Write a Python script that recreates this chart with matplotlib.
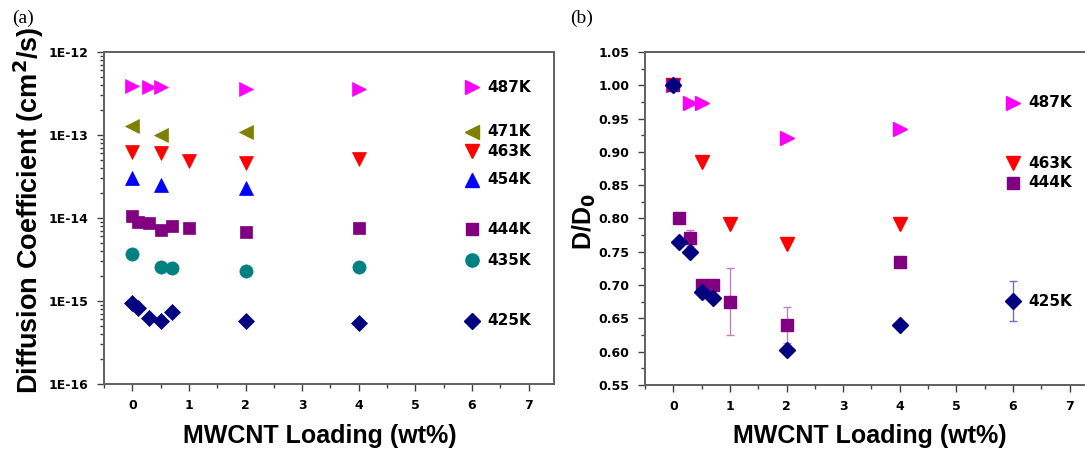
import math
import matplotlib
matplotlib.use("Agg")
import matplotlib.pyplot as plt
from matplotlib.ticker import FixedLocator, FuncFormatter, MultipleLocator, NullFormatter

# ---------------- data: panel (a) ----------------
labels = ["487K", "471K", "463K", "454K", "444K", "435K", "425K"]
colors = ["#FF00FF", "#808000", "#FF0000", "#0000FF", "#800080", "#008080", "#000080"]
markers = [">", "<", "v", "^", "s", "o", "D"]
msizes = [10, 10, 10, 10, 8.5, 9.5, 8.5]

x_487 = [0, 0.3, 0.5, 2, 4]
D_487 = [3.9e-13, 3.8e-13, 3.8e-13, 3.55e-13, 3.55e-13]
x_471 = [0, 0.5, 2]
D_471 = [1.29e-13, 1.0e-13, 1.1e-13]
x_463 = [0, 0.5, 1, 2, 4]
D_463 = [6.3e-14, 6.0e-14, 4.8e-14, 4.6e-14, 5.2e-14]
x_454 = [0, 0.5, 2]
D_454 = [3.0e-14, 2.5e-14, 2.28e-14]
x_444 = [0, 0.1, 0.3, 0.5, 0.7, 1, 2, 4]
D_444 = [1.07e-14, 9.0e-15, 8.6e-15, 7.2e-15, 7.9e-15, 7.5e-15, 6.7e-15, 7.6e-15]
x_435 = [0, 0.5, 0.7, 2, 4]
D_435 = [3.7e-15, 2.6e-15, 2.5e-15, 2.3e-15, 2.6e-15]
x_425 = [0, 0.1, 0.3, 0.5, 0.7, 2, 4]
D_425 = [9.4e-16, 8.3e-16, 6.3e-16, 5.8e-16, 7.4e-16, 5.8e-16, 5.4e-16]

# legend-marker positions (panel a) at x = 6
legend_a_x = 6
legend_a_y = [3.75e-13, 1.09e-13, 6.4e-14, 2.9e-14, 7.3e-15, 3.1e-15, 5.8e-16]

# ---------------- data: panel (b) ----------------
xb_487 = [0, 0.3, 0.5, 2, 4]
r_487 = [1.0, 0.974, 0.974, 0.921, 0.934]
xb_463 = [0, 0.5, 1, 2, 4]
r_463 = [1.0, 0.885, 0.792, 0.761, 0.792]
xb_444 = [0, 0.1, 0.3, 0.5, 0.7, 1, 2, 4]
r_444 = [1.0, 0.800, 0.770, 0.700, 0.700, 0.675, 0.640, 0.735]
e_444 = [0, 0, 0.012, 0, 0, 0.05, 0.027, 0]
xb_425 = [0, 0.1, 0.3, 0.5, 0.7, 2, 4, 6]
r_425 = [1.0, 0.764, 0.749, 0.690, 0.680, 0.603, 0.640, 0.676]
e_425 = [0, 0, 0, 0, 0, 0, 0, 0.030]

labels_b = ["487K", "463K", "444K"]
legend_b_x = 6
legend_b_y = [0.974, 0.883, 0.854]

# ---------------- figure ----------------
plt.rcParams['font.family'] = ['Liberation Sans', 'DejaVu Sans']
fig = plt.figure(figsize=(10.85, 4.51), dpi=100)

W, H = 1085.0, 451.0
def pos(x0, y0, x1, y1):
    return [x0 / W, 1 - y1 / H, (x1 - x0) / W, (y1 - y0) / H]

spine_col = "#606060"
TICKFONT = dict(family="DejaVu Sans", weight="bold", size=9)
LABFONT = dict(family="DejaVu Sans", weight="bold", size=11)

def style(ax):
    for s in ax.spines.values():
        s.set_color(spine_col)
        s.set_linewidth(1.4)
    ax.tick_params(which="both", direction="out", top=False, right=False,
                   color="#404040", width=1.0)
    ax.tick_params(which="major", length=5, pad=6)
    ax.tick_params(which="minor", length=3)
    for lab in ax.get_xticklabels() + ax.get_yticklabels():
        lab.set_fontfamily(TICKFONT["family"])
        lab.set_fontweight(TICKFONT["weight"])
        lab.set_fontsize(TICKFONT["size"])

# ---- panel (a)
axa = fig.add_axes(pos(104, 52, 554, 384))
series_a = [(x_487, D_487), (x_471, D_471), (x_463, D_463), (x_454, D_454),
            (x_444, D_444), (x_435, D_435), (x_425, D_425)]
for (xs, ys), c, m, ms in zip(series_a, colors, markers, msizes):
    axa.plot(xs, ys, linestyle="none", marker=m, color=c, markersize=ms,
             markeredgecolor=c, markeredgewidth=0.5)
for yv, c, m, ms, lab in zip(legend_a_y, colors, markers, msizes, labels):
    axa.plot([legend_a_x], [yv], linestyle="none", marker=m, color=c,
             markersize=ms, markeredgecolor=c)
    axa.text(legend_a_x + 0.27, yv, lab, va="center", ha="left", **LABFONT)
axa.set_yscale("log")
axa.set_ylim(1e-16, 1e-12)
axa.set_xlim(-0.5, 7.45)
decades = [-16, -15, -14, -13, -12]
axa.yaxis.set_major_locator(FixedLocator([10.0 ** d for d in decades]))
axa.yaxis.set_minor_locator(FixedLocator([k * 10.0 ** d for d in decades[:-1] for k in range(2, 10)]))
axa.yaxis.set_minor_formatter(NullFormatter())
axa.yaxis.set_major_formatter(FuncFormatter(lambda v, p: "1E%d" % round(math.log10(v))))
axa.xaxis.set_major_locator(MultipleLocator(1))
axa.xaxis.set_minor_locator(MultipleLocator(0.5))
style(axa)
axa.set_xlabel("MWCNT Loading (wt%)", fontsize=18, fontweight="bold")
axa.xaxis.set_label_coords(0.48, -(424 - 384) / 332.0)
axa.set_ylabel("Diffusion Coefficient (cm$^\\mathbf{2}$/s)", fontsize=19.5,
               fontweight="bold")
axa.yaxis.set_label_coords(-(104 - 46) / 450.0, (384 - 210) / 332.0)
fig.text(12 / W, 1 - 18 / H, "(a)", fontsize=14, family="Liberation Serif",
         va="center", ha="left")

# ---- panel (b)
axb = fig.add_axes(pos(645, 52, 1095, 385))
bcol = {"487K": "#FF00FF", "463K": "#FF0000", "444K": "#800080", "425K": "#000080"}
axb.plot(xb_487, r_487, linestyle="none", marker=">", color=bcol["487K"], markersize=10)
axb.plot(xb_463, r_463, linestyle="none", marker="v", color=bcol["463K"], markersize=10)
axb.errorbar(xb_444, r_444, yerr=e_444, fmt="s", color=bcol["444K"], markersize=8.5,
             ecolor="#C080C0", elinewidth=1.0, capsize=3, capthick=1.0)
axb.errorbar(xb_425, r_425, yerr=e_425, fmt="D", color=bcol["425K"], markersize=8.5,
             ecolor="#7070C0", elinewidth=1.0, capsize=3, capthick=1.0)
for yv, lab, m in zip(legend_b_y, labels_b, [">", "v", "s"]):
    ms = 8.5 if m == "s" else 10
    axb.plot([legend_b_x], [yv], linestyle="none", marker=m, color=bcol[lab], markersize=ms)
    axb.text(legend_b_x + 0.27, yv, lab, va="center", ha="left", **LABFONT)
axb.text(legend_b_x + 0.27, r_425[-1], "425K", va="center", ha="left", **LABFONT)
axb.set_xlim(-0.5, 7.45)
axb.set_ylim(0.55, 1.05)
axb.xaxis.set_major_locator(MultipleLocator(1))
axb.xaxis.set_minor_locator(MultipleLocator(0.5))
axb.yaxis.set_major_locator(MultipleLocator(0.05))
axb.yaxis.set_minor_locator(MultipleLocator(0.025))
axb.yaxis.set_major_formatter(FuncFormatter(lambda v, p: "%.2f" % v))
style(axb)
axb.set_xlabel("MWCNT Loading (wt%)", fontsize=18, fontweight="bold")
axb.xaxis.set_label_coords(0.5, -(424 - 385) / 333.0)
axb.set_ylabel("D/D$_\\mathbf{0}$", fontsize=18, fontweight="bold")
axb.yaxis.set_label_coords(-(645 - 598) / 450.0, (385 - 222) / 333.0)
fig.text(570 / W, 1 - 18 / H, "(b)", fontsize=14, family="Liberation Serif",
         va="center", ha="left")

fig.savefig("out.png", dpi=100)
